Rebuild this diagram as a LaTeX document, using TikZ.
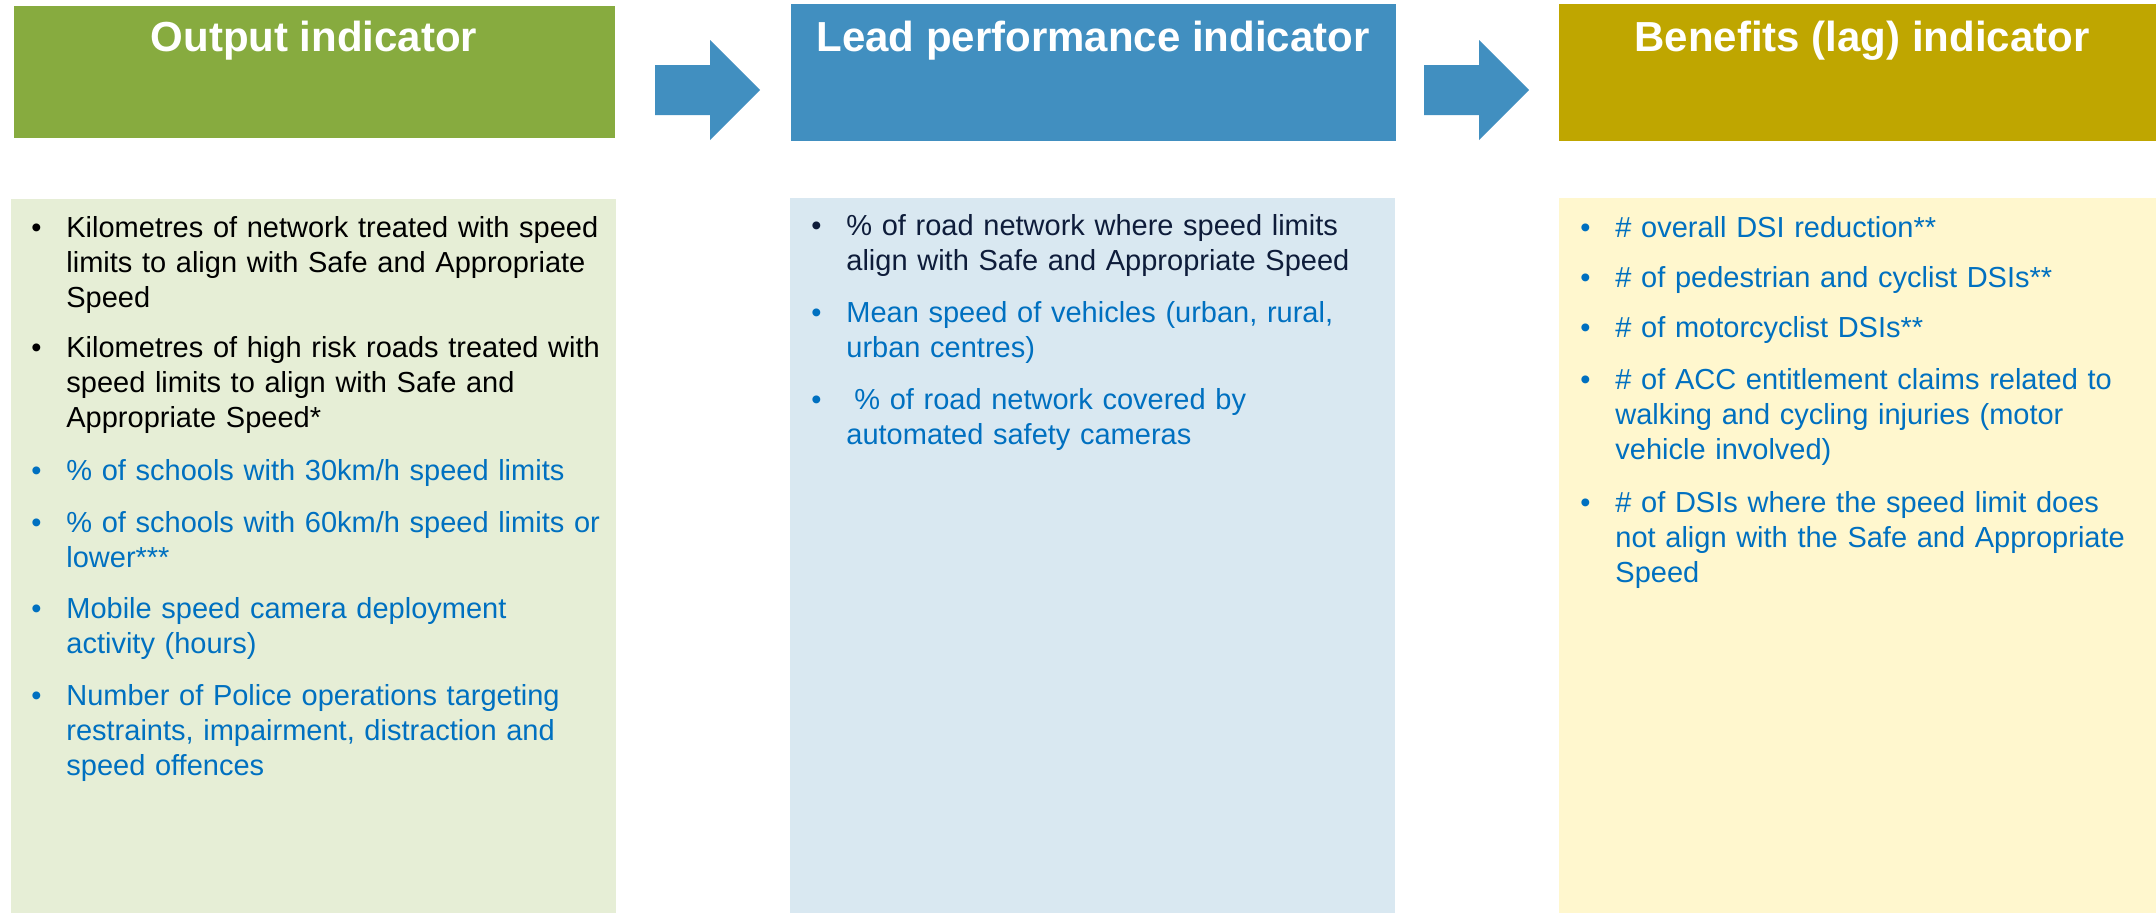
\documentclass[tikz,border=0pt]{standalone}
\usepackage{fontspec}
\setmainfont{Liberation Sans}
\definecolor{greenhead}{HTML}{87AB3F}
\definecolor{bluehead}{HTML}{418FC0}
\definecolor{olivehead}{HTML}{BFA600}
\definecolor{greenbody}{HTML}{E6EED6}
\definecolor{bluebody}{HTML}{D9E8F1}
\definecolor{yellowbody}{HTML}{FFF7CE}
\definecolor{txtblue}{HTML}{0070C0}
\definecolor{navy}{HTML}{0E1C3A}
% bullet hung to the left of the item text
\newcommand\itembullet{\llap{\textbullet\hspace{12.4pt}}}
\begin{document}
\begin{tikzpicture}[x=0.5pt,y=-0.5pt,
  title/.style={font=\fontsize{21}{25}\selectfont\bfseries, text=white, anchor=base, inner sep=0pt},
  item/.style={font=\fontsize{14.5}{17.5}\selectfont, anchor=base west, inner sep=0pt,
               text width=290pt, align=left},
  blockarrow/.style={fill=bluehead, draw=none}]
\path[use as bounding box] (0,0) rectangle (2156,912);
\clip (0,0) rectangle (2156,912);

% column headers
\fill[greenhead]  (14,6)    rectangle (615,138);
\fill[bluehead]   (791,4)   rectangle (1396,141);
\fill[olivehead]  (1559,4)  rectangle (2170,141);
\node[title] (h1) at (314,51)  {Output indicator};
\node[title] (h2) at (1093,51) {Lead performance indicator};
\node[title] (h3) at (1862,51) {Benefits (lag) indicator};

% block arrows between the headers
\coordinate (a1) at (655,90);
\coordinate (a2) at (1424,90);
\foreach \a in {a1,a2}{
  \fill[blockarrow] ([shift={(0,-25)}]\a) -- ++(55,0) -- ++(0,-25) -- ++(50,50)
    -- ++(-50,50) -- ++(0,-25) -- ++(-55,0) -- cycle;
}

% column bodies
\fill[greenbody]  (11,199)   rectangle (616,920);
\fill[bluebody]   (790,198)  rectangle (1395,920);
\fill[yellowbody] (1559,198) rectangle (2170,920);

% output indicators
\node[item, text=black] (o1) at (66,237) {\itembullet Kilometres of network treated with speed\\limits to align with Safe and Appropriate\\Speed};
\node[item, text=black] (o2) at (66,357) {\itembullet Kilometres of high risk roads treated with\\speed limits to align with Safe and\\Appropriate Speed*};
\node[item, text=txtblue] (o3) at (66,480) {\itembullet \% of schools with 30km/h speed limits};
\node[item, text=txtblue] (o4) at (66,532) {\itembullet \% of schools with 60km/h speed limits or\\lower***};
\node[item, text=txtblue] (o5) at (66,618) {\itembullet Mobile speed camera deployment\\activity (hours)};
\node[item, text=txtblue] (o6) at (66,705) {\itembullet Number of Police operations targeting\\restraints, impairment, distraction and\\speed offences};

% lead performance indicators
\node[item, text=navy] (l1) at (846,235) {\itembullet \% of road network where speed limits\\align with Safe and Appropriate Speed};
\node[item, text=txtblue] (l2) at (846,322) {\itembullet Mean speed of vehicles (urban, rural,\\urban centres)};
\node[item, text=txtblue] (l3) at (846,409) {\itembullet \hspace{4pt}\% of road network covered by\\automated safety cameras};

% benefits (lag) indicators
\node[item, text=txtblue] (b1) at (1615,237) {\itembullet \# overall DSI reduction**};
\node[item, text=txtblue] (b2) at (1615,287) {\itembullet \# of pedestrian and cyclist DSIs**};
\node[item, text=txtblue] (b3) at (1615,337) {\itembullet \# of motorcyclist DSIs**};
\node[item, text=txtblue] (b4) at (1615,389) {\itembullet \# of ACC entitlement claims related to\\walking and cycling injuries (motor\\vehicle involved)};
\node[item, text=txtblue] (b5) at (1615,512) {\itembullet \# of DSIs where the speed limit does\\not align with the Safe and Appropriate\\Speed};
\end{tikzpicture}
\end{document}
